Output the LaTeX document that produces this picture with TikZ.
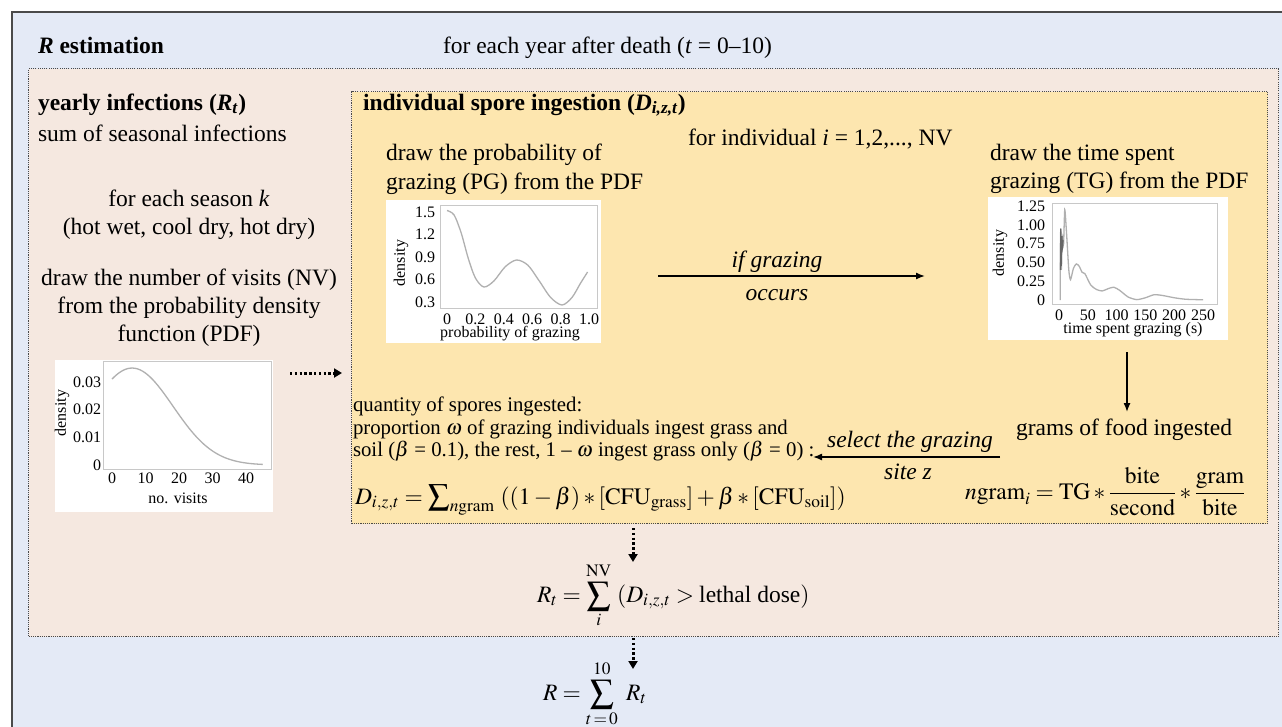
\documentclass[tikz,border=0pt]{standalone}
\usepackage{mathptmx}
\usepackage{fontspec}
\setmainfont{Liberation Serif}
\usetikzlibrary{arrows.meta}
\definecolor{bgblue}{HTML}{E4EAF6}
\definecolor{bgpink}{HTML}{F5E8E0}
\definecolor{bgyellow}{HTML}{FDE6AF}
\definecolor{framecol}{HTML}{4A4A4A}
\definecolor{plotgray}{HTML}{B0B0B0}
\definecolor{axgray}{HTML}{C8C8C8}
\tikzset{
 txt/.style={font=\fontsize{23.5}{28}\selectfont, inner sep=0pt, outer sep=0pt},
 qtxt/.style={font=\fontsize{20.8}{22.5}\selectfont, inner sep=0pt, outer sep=0pt},
 tick/.style={font=\fontsize{16}{18}\selectfont, inner sep=0pt, outer sep=0pt},
 dotbox/.style={draw=framecol, line width=1.3pt, dash pattern=on 1.1pt off 1.1pt, inner sep=0pt, anchor=north west},
 plotbg/.style={fill=white, draw=none, inner sep=0pt, anchor=north west},
 axframe/.style={draw=axgray, line width=0.9pt},
 curve/.style={draw=plotgray, line width=1.3pt},
 solidarrow/.style={draw=black, line width=1.4pt, -{Latex[length=9pt,width=7pt]}},
 dotarrow/.style={draw=black, line width=3pt, dash pattern=on 2.4pt off 2.4pt, -{Triangle[length=8pt,width=9pt]}},
}
\newcommand{\bigsumop}{\mathop{\raisebox{-1.5pt}{\scalebox{1.3}{$\sum$}}}\nolimits}
\begin{document}
\begin{tikzpicture}[x=1pt,y=-1pt]
\useasboundingbox (0,0) rectangle (1282,726);
\begin{scope}
\clip (0,0) rectangle (1282,726);
\node[fill=bgblue, draw=framecol, line width=2pt, inner sep=0pt, anchor=north west, minimum width=1300pt, minimum height=740pt] (outerbox) at (11,11) {};
\end{scope}
\node[dotbox, fill=bgpink, minimum width=1250pt, minimum height=568pt] (pinkbox) at (28,68) {};
\node[dotbox, fill=bgyellow, minimum width=916pt, minimum height=432pt] (yellowbox) at (351,91) {};

% header
\node[txt, anchor=base west] (rtitle) at (38,53) {\bfseries\textit{R} estimation};
\node[txt, anchor=base west] (yearloop) at (443,53) {for each year after death (\textit{t} = 0–10)};

% left column
\node[txt, anchor=base west] (yearly) at (38,110) {\bfseries yearly infections (\textit{R}\textsubscript{\textit{t}})};
\node[txt, anchor=base west] (sumseas) at (38,141) {sum of seasonal infections};
\node[txt, anchor=base] (season1) at (189,206) {for each season \textit{k}};
\node[txt, anchor=base] (season2) at (189,234) {(hot wet, cool dry, hot dry)};
\node[txt, anchor=base] (nv1) at (189,285) {draw the number of visits (NV)};
\node[txt, anchor=base] (nv2) at (189,313) {from the probability density};
\node[txt, anchor=base] (nv3) at (189,341) {function (PDF)};

% NV plot
\node[plotbg, minimum width=218pt, minimum height=152pt] (nvplot) at (55,360) {};
\draw[axframe] (103,361) rectangle (271,469);
\begin{scope}[shift={(112,465)}, x=3.35pt, y=27.7pt]
\draw[curve, domain=0:45, samples=60] plot (\x, {3.5*exp(-((\x-6)^2)/298)});
\end{scope}
\foreach \v/\l in {0/0,1/0.01,2/0.02,3/0.03}
  \node[tick, anchor=east] (nvy\v) at (101,465-27.7*\v) {\l};
\foreach \v in {0,10,20,30,40}
  \node[tick] (nvx\v) at (112+3.35*\v,478) {\v};
\node[tick] (nvxl) at (178,498) {no. visits};
\node[tick, rotate=90] (nvyl) at (62,413) {density};

\coordinate (nva1) at (290,373);
\coordinate (nva2) at (342,373);
\draw[dotarrow] (nva1) -- (nva2);

% yellow box content
\node[txt, anchor=base west] (indtitle) at (363,110) {\bfseries individual spore ingestion (\textit{D}\textsubscript{\textit{i,z,t}})};
\node[txt, anchor=base west] (indloop) at (688,145) {for individual \textit{i} = 1,2,..., NV};
\node[txt, anchor=base west] (pg1) at (386,160) {draw the probability of};
\node[txt, anchor=base west] (pg2) at (386,189) {grazing (PG) from the PDF};
\node[txt, anchor=base west] (tg1) at (990,160) {draw the time spent};
\node[txt, anchor=base west] (tg2) at (990,188) {grazing (TG) from the PDF};

% PG plot
\node[plotbg, minimum width=215pt, minimum height=143pt] (pgplot) at (386,200) {};
\draw[axframe] (440,205) rectangle (597,308);
\begin{scope}[shift={(447,324.5)}, x=142pt, y=75pt]
\draw[curve] plot[smooth] coordinates {(0,1.52) (0.05,1.46) (0.1,1.22) (0.15,0.88) (0.2,0.62) (0.26,0.5) (0.33,0.58) (0.41,0.77) (0.49,0.86) (0.57,0.79) (0.65,0.58) (0.73,0.36) (0.81,0.26) (0.88,0.36) (0.94,0.55) (0.99,0.7)};
\end{scope}
\foreach \v/\l in {3/0.3,6/0.6,9/0.9,12/1.2,15/1.5}
  \node[tick, anchor=east] (pgy\v) at (435,324.5-7.5*\v) {\l};
\foreach \v/\l in {0/0,2/0.2,4/0.4,6/0.6,8/0.8,10/1.0}
  \node[tick] (pgx\v) at (447+14.2*\v,319) {\l};
\node[tick] (pgxl) at (510,334) {probability of grazing};
\node[tick, rotate=90] (pgyl) at (401,263) {density};

\node[txt, anchor=base] (ifg) at (777,267) {\textit{if grazing}};
\node[txt, anchor=base] (occ) at (777,300) {\textit{occurs}};
\coordinate (ig1) at (658,276);
\coordinate (ig2) at (925,276);
\draw[solidarrow] (ig1) -- (ig2);

% TG plot
\node[plotbg, minimum width=240pt, minimum height=143pt] (tgplot) at (988,197) {};
\draw[axframe] (1052,203) rectangle (1217,304);
\begin{scope}[shift={(1059,300)}, x=0.576pt, y=75.2pt]
\draw[curve] plot[smooth, tension=0.4] coordinates {(2,0) (2.5,0.6) (3,0.95) (4,0.4) (5,0.85) (6,0.7) (7,0.8) (8,0.75) (10,1.2) (13,0.9) (17,0.4) (20,0.27) (25,0.42) (30,0.48) (35,0.45) (40,0.37) (45,0.35) (55,0.2) (65,0.14) (75,0.12) (85,0.15) (95,0.17) (105,0.13) (120,0.04) (135,0.005) (150,0.03) (165,0.07) (180,0.06) (200,0.03) (220,0.01) (250,0.003)};
\draw[draw=gray!80!black, line width=1.2pt] plot[smooth, tension=0.4] coordinates {(2.5,0.4) (3,0.95) (4,0.45) (5,0.85) (6,0.7) (7,0.8)};
\end{scope}
\foreach \v/\l in {0/0,1/0.25,2/0.50,3/0.75,4/1.00,5/1.25}
  \node[tick, anchor=east] (tgy\v) at (1045,300-18.8*\v) {\l};
\foreach \v in {0,50,100,150,200,250}
  \node[tick] (tgx\v) at (1059+0.576*\v,315) {\v};
\node[tick] (tgxl) at (1133,330) {time spent grazing (s)};
\node[tick, rotate=90] (tgyl) at (1000,253) {density};

\coordinate (gf1) at (1127,352);
\coordinate (gf2) at (1127,412);
\draw[solidarrow] (gf1) -- (gf2);
\node[txt, anchor=base] (grams) at (1124,435) {grams of food ingested};

\node[txt, anchor=base] (selg) at (910,447) {\textit{select the grazing}};
\node[txt, anchor=base] (sitez) at (908,479) {\textit{site z}};
\coordinate (sg1) at (1000,457);
\coordinate (sg2) at (813,457);
\draw[solidarrow] (sg1) -- (sg2);

\node[qtxt, anchor=base west] (q1) at (353,411) {quantity of spores ingested:};
\node[qtxt, anchor=base west] (q2) at (353,434) {proportion $\omega$ of grazing individuals ingest grass and};
\node[qtxt, anchor=base west] (q3) at (353,456) {soil ($\beta$ = 0.1), the rest, 1 –\ $\omega$ ingest grass only ($\beta$ = 0) :};

\node[txt, anchor=base west] (dform) at (355,504) {$D_{i,z,t} = \bigsumop_{n\mathrm{gram}}\ ((1 - \beta) \ast [\mathrm{CFU}_{\mathrm{grass}}] + \beta \ast [\mathrm{CFU}_{\mathrm{soil}}])$};
\node[txt, anchor=base west] (nform) at (965,499) {$n\mathrm{gram}_i = \mathrm{TG} \ast \displaystyle\frac{\mathrm{bite}}{\mathrm{second}} \ast \frac{\mathrm{gram}}{\mathrm{bite}}$};

% bottom
\coordinate (dd1) at (633,528);
\coordinate (dd2) at (633,562);
\draw[dotarrow] (dd1) -- (dd2);
\node[txt, anchor=base west] (rtform) at (537,602) {$R_t = \displaystyle\sum_{i}^{\mathrm{NV}}\ (D_{i,z,t} > \mbox{lethal dose})$};
\coordinate (dd3) at (633,638);
\coordinate (dd4) at (633,669);
\draw[dotarrow] (dd3) -- (dd4);
\node[txt, anchor=base west] (rform) at (543,700) {$R = \displaystyle\sum_{t\,{=}\,0}^{10}\ R_t$};
\end{tikzpicture}
\end{document}
